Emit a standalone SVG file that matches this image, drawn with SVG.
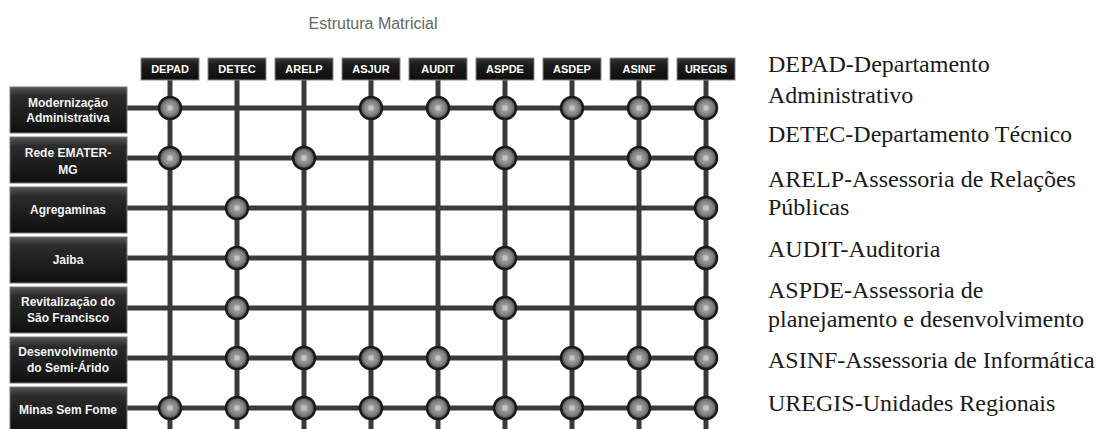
<svg xmlns="http://www.w3.org/2000/svg" xmlns:xlink="http://www.w3.org/1999/xlink" width="1098" height="429" viewBox="0 0 1098 429">
<style>
.title{font-family:"Liberation Sans",Arial,sans-serif;font-size:16px;fill:#666}
.hbox{fill:url(#hg);stroke:#888;stroke-width:1}
.htxt{font-family:"Liberation Sans",Arial,sans-serif;font-size:11px;font-weight:bold;fill:#fff;text-anchor:middle}
.rbox{fill:url(#rg);stroke:#777;stroke-width:1}
.rtxt{font-family:"Liberation Sans",Arial,sans-serif;font-size:12px;font-weight:bold;fill:#f2f2f2;text-anchor:middle}
.grid line{stroke:#3a3a3a;stroke-width:5}
.leg{font-family:"Liberation Serif","Times New Roman",serif;font-size:24px;fill:#1a1a1a}
</style>
<defs>
<linearGradient id="hg" x1="0" y1="0" x2="0" y2="1">
<stop offset="0" stop-color="#3a3a3a"/><stop offset="0.3" stop-color="#1c1c1c"/><stop offset="1" stop-color="#0e0e0e"/>
</linearGradient>
<linearGradient id="rg" x1="0" y1="0" x2="0" y2="1">
<stop offset="0" stop-color="#555"/><stop offset="0.2" stop-color="#2b2b2b"/><stop offset="1" stop-color="#0f0f0f"/>
</linearGradient>
<radialGradient id="dg" cx="0.5" cy="0.5" r="0.5">
<stop offset="0" stop-color="#b0b0b0"/><stop offset="0.6" stop-color="#858585"/><stop offset="1" stop-color="#4a4a4a"/>
</radialGradient>
<g id="dot">
<circle r="11" fill="url(#dg)" stroke="#1a1a1a" stroke-width="2.5"/>
<rect x="-2.5" y="-2.5" width="5" height="5" fill="#c4c4c4"/>
</g>
</defs>
<rect width="1098" height="429" fill="#fff"/>
<text class="title" x="373" y="29" text-anchor="middle">Estrutura Matricial</text>

<g id="connectors" class="grid">
<line x1="170" y1="80" x2="170" y2="429"/>
<line x1="237" y1="80" x2="237" y2="429"/>
<line x1="304" y1="80" x2="304" y2="429"/>
<line x1="371" y1="80" x2="371" y2="429"/>
<line x1="438" y1="80" x2="438" y2="429"/>
<line x1="505" y1="80" x2="505" y2="429"/>
<line x1="572" y1="80" x2="572" y2="429"/>
<line x1="639" y1="80" x2="639" y2="429"/>
<line x1="706" y1="80" x2="706" y2="429"/>
<line x1="127" y1="108" x2="706" y2="108"/>
<line x1="127" y1="158" x2="706" y2="158"/>
<line x1="127" y1="208" x2="706" y2="208"/>
<line x1="127" y1="258" x2="706" y2="258"/>
<line x1="127" y1="308" x2="706" y2="308"/>
<line x1="127" y1="358" x2="706" y2="358"/>
<line x1="127" y1="408" x2="706" y2="408"/>
</g>

<g id="h-depad"><rect class="hbox" x="141" y="58" width="58" height="22"/><text class="htxt" x="170" y="73">DEPAD</text></g>
<g id="h-detec"><rect class="hbox" x="208" y="58" width="58" height="22"/><text class="htxt" x="237" y="73">DETEC</text></g>
<g id="h-arelp"><rect class="hbox" x="275" y="58" width="58" height="22"/><text class="htxt" x="304" y="73">ARELP</text></g>
<g id="h-asjur"><rect class="hbox" x="342" y="58" width="58" height="22"/><text class="htxt" x="371" y="73">ASJUR</text></g>
<g id="h-audit"><rect class="hbox" x="409" y="58" width="58" height="22"/><text class="htxt" x="438" y="73">AUDIT</text></g>
<g id="h-aspde"><rect class="hbox" x="476" y="58" width="58" height="22"/><text class="htxt" x="505" y="73">ASPDE</text></g>
<g id="h-asdep"><rect class="hbox" x="543" y="58" width="58" height="22"/><text class="htxt" x="572" y="73">ASDEP</text></g>
<g id="h-asinf"><rect class="hbox" x="610" y="58" width="58" height="22"/><text class="htxt" x="639" y="73">ASINF</text></g>
<g id="h-uregis"><rect class="hbox" x="677" y="58" width="58" height="22"/><text class="htxt" x="706" y="73">UREGIS</text></g>

<g id="r-modernizacao"><rect class="rbox" x="10" y="87" width="117" height="46"/><text class="rtxt" x="68" y="107">Modernização</text><text class="rtxt" x="68" y="122">Administrativa</text></g>
<g id="r-emater"><rect class="rbox" x="10" y="137" width="117" height="46"/><text class="rtxt" x="68" y="157">Rede EMATER-</text><text class="rtxt" x="68" y="174">MG</text></g>
<g id="r-agregaminas"><rect class="rbox" x="10" y="187" width="117" height="46"/><text class="rtxt" x="68" y="214">Agregaminas</text></g>
<g id="r-jaiba"><rect class="rbox" x="10" y="237" width="117" height="46"/><text class="rtxt" x="68" y="264">Jaiba</text></g>
<g id="r-revitalizacao"><rect class="rbox" x="10" y="287" width="117" height="46"/><text class="rtxt" x="68" y="306">Revitalização do</text><text class="rtxt" x="68" y="322">São Francisco</text></g>
<g id="r-semiarido"><rect class="rbox" x="10" y="337" width="117" height="46"/><text class="rtxt" x="68" y="356">Desenvolvimento</text><text class="rtxt" x="68" y="372">do Semi-Árido</text></g>
<g id="r-minas"><rect class="rbox" x="10" y="387" width="117" height="46"/><text class="rtxt" x="68" y="414">Minas Sem Fome</text></g>

<g id="intersections">
<use xlink:href="#dot" x="170" y="108"/><use xlink:href="#dot" x="371" y="108"/><use xlink:href="#dot" x="438" y="108"/><use xlink:href="#dot" x="505" y="108"/><use xlink:href="#dot" x="572" y="108"/><use xlink:href="#dot" x="639" y="108"/><use xlink:href="#dot" x="706" y="108"/>
<use xlink:href="#dot" x="170" y="158"/><use xlink:href="#dot" x="304" y="158"/><use xlink:href="#dot" x="505" y="158"/><use xlink:href="#dot" x="639" y="158"/><use xlink:href="#dot" x="706" y="158"/>
<use xlink:href="#dot" x="237" y="208"/><use xlink:href="#dot" x="706" y="208"/>
<use xlink:href="#dot" x="237" y="258"/><use xlink:href="#dot" x="505" y="258"/><use xlink:href="#dot" x="706" y="258"/>
<use xlink:href="#dot" x="237" y="308"/><use xlink:href="#dot" x="505" y="308"/><use xlink:href="#dot" x="706" y="308"/>
<use xlink:href="#dot" x="237" y="358"/><use xlink:href="#dot" x="304" y="358"/><use xlink:href="#dot" x="371" y="358"/><use xlink:href="#dot" x="438" y="358"/><use xlink:href="#dot" x="572" y="358"/><use xlink:href="#dot" x="639" y="358"/><use xlink:href="#dot" x="706" y="358"/>
<use xlink:href="#dot" x="170" y="408"/><use xlink:href="#dot" x="237" y="408"/><use xlink:href="#dot" x="304" y="408"/><use xlink:href="#dot" x="371" y="408"/><use xlink:href="#dot" x="438" y="408"/><use xlink:href="#dot" x="505" y="408"/><use xlink:href="#dot" x="572" y="408"/><use xlink:href="#dot" x="639" y="408"/><use xlink:href="#dot" x="706" y="408"/>
</g>

<g id="legend" class="leg">
<text x="768" y="72">DEPAD-Departamento</text>
<text x="768" y="103">Administrativo</text>
<text x="768" y="142">DETEC-Departamento Técnico</text>
<text x="768" y="187">ARELP-Assessoria de Relações</text>
<text x="768" y="215">Públicas</text>
<text x="768" y="257">AUDIT-Auditoria</text>
<text x="768" y="298">ASPDE-Assessoria de</text>
<text x="768" y="327">planejamento e desenvolvimento</text>
<text x="768" y="368">ASINF-Assessoria de Informática</text>
<text x="768" y="411">UREGIS-Unidades Regionais</text>
</g>
</svg>
